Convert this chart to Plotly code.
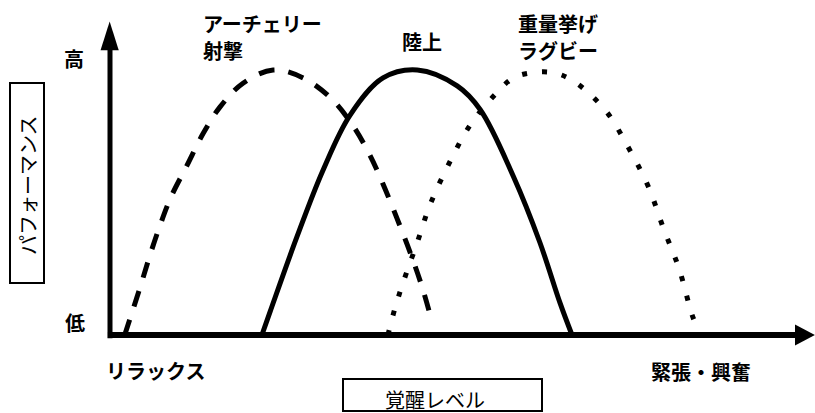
import plotly.graph_objects as go

# ---- data (arousal level -> performance) ----
archery_x = [0.21, 0.43, 0.57, 0.71, 0.87, 1.10, 1.33, 1.57, 1.90, 2.33, 2.76, 3.17, 3.47, 3.71, 3.90, 4.10, 4.29, 4.46, 4.60]
archery_y = [0.00, 0.18, 0.30, 0.41, 0.52, 0.64, 0.76, 0.86, 0.95, 1.00, 0.97, 0.89, 0.79, 0.68, 0.57, 0.44, 0.31, 0.18, 0.05]

athletics_x = [2.17, 2.29, 2.67, 3.04, 3.43, 3.90, 4.39, 4.96, 5.29, 5.76, 6.14, 6.43, 6.60]
athletics_y = [0.00, 0.09, 0.37, 0.62, 0.83, 0.97, 1.00, 0.94, 0.85, 0.60, 0.35, 0.12, 0.00]

lifting_x = [3.97, 4.07, 4.19, 4.39, 4.57, 4.83, 5.14, 5.51, 5.76, 6.03, 6.33, 6.61, 7.07, 7.40, 7.69, 7.91, 8.13, 8.31, 8.37]
lifting_y = [0.00, 0.10, 0.20, 0.35, 0.49, 0.64, 0.79, 0.91, 0.97, 0.99, 0.99, 0.96, 0.85, 0.71, 0.56, 0.40, 0.25, 0.08, 0.04]

series_labels = [["アーチェリー", "射撃"], ["陸上"], ["重量挙げ", "ラグビー"]]
y_tick_labels = ["低", "高"]
x_tick_labels = ["リラックス", "緊張・興奮"]
y_title = "パフォーマンス"
x_title = "覚醒レベル"

W, H = 815, 413
FONT = "Noto Sans CJK JP"


def px(x, y):
    """pixel -> paper coordinates"""
    return x / W, 1 - y / H


fig = go.Figure()
fig.add_trace(go.Scatter(x=archery_x, y=archery_y, mode="lines",
                         line=dict(color="black", width=5, dash="16px,14px", shape="spline", smoothing=1.0)))
fig.add_trace(go.Scatter(x=athletics_x, y=athletics_y, mode="lines",
                         line=dict(color="black", width=5, shape="spline", smoothing=1.0)))
fig.add_trace(go.Scatter(x=lifting_x, y=lifting_y, mode="lines",
                         line=dict(color="black", width=5, dash="5px,15px", shape="spline", smoothing=1.0)))

shapes = []
# vertical axis with arrow
shapes.append(dict(type="line", xref="x", yref="y", x0=0, x1=0, y0=-0.012, y1=1.09,
                   line=dict(color="black", width=5)))
shapes.append(dict(type="path", xref="x", yref="y",
                   path="M -0.135 1.075 L 0.125 1.075 L -0.005 1.183 Z",
                   fillcolor="black", line=dict(color="black", width=0)))
# horizontal axis with arrow
shapes.append(dict(type="line", xref="x", yref="y", x0=-0.03, x1=9.82, y0=0, y1=0,
                   line=dict(color="black", width=6)))
shapes.append(dict(type="path", xref="x", yref="y",
                   path="M 9.786 0.040 L 9.786 -0.040 L 10.07 0 Z",
                   fillcolor="black", line=dict(color="black", width=0)))
# title boxes
x0, y0 = px(10, 83); x1, y1 = px(44, 283)
shapes.append(dict(type="rect", xref="paper", yref="paper", x0=x0, x1=x1, y0=y1, y1=y0,
                   line=dict(color="black", width=2)))
x0, y0 = px(343, 379); x1, y1 = px(542, 411)
shapes.append(dict(type="rect", xref="paper", yref="paper", x0=x0, x1=x1, y0=y1, y1=y0,
                   line=dict(color="black", width=2)))

annotations = []


def ann(text, x, y, size=20, bold=True, xanchor="center", yanchor="middle", align="center", angle=0):
    ax, ay = px(x, y)
    annotations.append(dict(text=text, x=ax, y=ay, xref="paper", yref="paper", showarrow=False,
                            xanchor=xanchor, yanchor=yanchor, align=align, textangle=angle,
                            borderpad=0,
                            font=dict(family=FONT, size=size, color="black",
                                      weight="bold" if bold else "normal")))


ann(y_tick_labels[1], 74, 59)
ann(y_tick_labels[0], 75, 322)
ann(x_tick_labels[0], 155, 370)
ann(x_tick_labels[1], 701, 371)
ann(series_labels[0][0], 202, 23, xanchor="left", align="left")
ann(series_labels[0][1], 202, 50, xanchor="left", align="left")
ann(series_labels[1][0], 422, 41)
ann(series_labels[2][0], 517, 23, xanchor="left", align="left")
ann(series_labels[2][1], 517, 50, xanchor="left", align="left")
ann(y_title, 27, 185, bold=False, angle=-90)
ann(x_title, 435, 399, bold=False)

fig.update_layout(
    width=W, height=H,
    margin=dict(l=0, r=0, t=0, b=0),
    paper_bgcolor="white", plot_bgcolor="white",
    showlegend=False,
    xaxis=dict(range=[-110 / 70, 705 / 70], visible=False, fixedrange=True),
    yaxis=dict(range=[-78 / 265, 335 / 265], visible=False, fixedrange=True),
    shapes=shapes, annotations=annotations,
)

fig.write_html("out.html", post_script="document.body.style.margin='0';document.body.style.overflow='hidden';",
               config={"displayModeBar": False})
